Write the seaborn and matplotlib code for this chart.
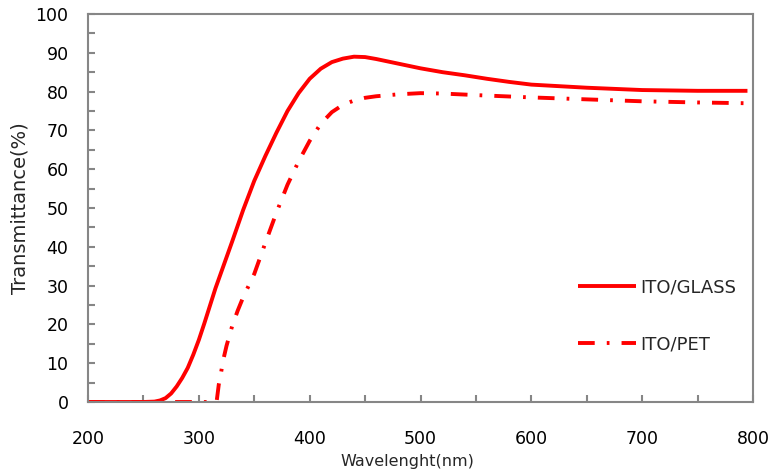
import matplotlib
matplotlib.use("Agg")
import matplotlib.pyplot as plt
from matplotlib.ticker import MultipleLocator
import seaborn as sns
import pandas as pd

# ---- data ----
glass_wl = [200, 250, 260, 265, 270, 275, 280, 285, 290, 295, 300, 305, 310, 315,
            320, 330, 340, 350, 360, 370, 380, 390, 400, 410, 420, 430, 440, 450,
            460, 470, 480, 500, 520, 540, 560, 580, 600, 650, 700, 750, 795]
glass_t = [0, 0, 0.1, 0.4, 1.0, 2.2, 4.0, 6.2, 8.8, 12.2, 16.0, 20.3, 24.8, 29.3,
           33.3, 41.3, 49.5, 57.0, 63.4, 69.4, 75.0, 79.6, 83.3, 85.9, 87.6, 88.5,
           89.0, 88.9, 88.4, 87.8, 87.2, 86.0, 85.0, 84.2, 83.3, 82.5, 81.8, 81.0,
           80.4, 80.2, 80.2]

pet_wl = [200, 316, 318, 320, 322, 325, 330, 335, 340, 350, 360, 370, 380, 390,
          400, 410, 420, 430, 440, 450, 460, 480, 500, 520, 550, 600, 650, 700,
          750, 795]
pet_t = [0, 0, 4.5, 7.5, 10.8, 14.5, 19.5, 23.5, 27, 33, 41, 48.8, 56, 62,
         67.3, 71.7, 74.7, 76.6, 77.7, 78.4, 78.8, 79.3, 79.6, 79.5, 79.1, 78.5,
         78.0, 77.5, 77.2, 77.0]

labels = ["ITO/GLASS", "ITO/PET"]
x_ticks = [200, 300, 400, 500, 600, 700, 800]
y_ticks = [0, 10, 20, 30, 40, 50, 60, 70, 80, 90, 100]

df_glass = pd.DataFrame({"wl": glass_wl, "t": glass_t})
df_pet = pd.DataFrame({"wl": pet_wl, "t": pet_t})

sns.set_style("white")
plt.rcParams["font.family"] = ["DejaVu Sans"]

fig = plt.figure(figsize=(7.73, 4.72), dpi=100)
ax = fig.add_axes([88 / 773, 1 - 402 / 472, (753 - 88) / 773, (402 - 14) / 472])

red = "#FF0000"
sns.lineplot(data=df_glass, x="wl", y="t", ax=ax, color=red, linewidth=2.8,
             label=labels[0], solid_capstyle="butt")
sns.lineplot(data=df_pet, x="wl", y="t", ax=ax, color=red, linewidth=2.8,
             label=labels[1], linestyle=(0, (4.3, 3.1, 0.7, 3.1)),
             dash_capstyle="butt")

ax.set_xlim(200, 800)
ax.set_ylim(0, 100)
ax.set_xticks(x_ticks)
ax.set_yticks(y_ticks)
ax.xaxis.set_minor_locator(MultipleLocator(50))
ax.yaxis.set_minor_locator(MultipleLocator(5))

gray = "#868686"
for s in ax.spines.values():
    s.set_visible(True)
    s.set_color(gray)
    s.set_linewidth(1.5)

ax.tick_params(axis="both", which="both", direction="in", length=5, width=1.5,
               color=gray, labelcolor="black", labelsize=12.5)
ax.tick_params(axis="x", which="both", pad=20, bottom=True, top=False)
ax.tick_params(axis="y", which="both", pad=14, left=True, right=False)

ax.set_xlabel("Wavelenght(nm)", fontsize=11.5)
ax.xaxis.set_label_coords((407 - 88) / 665, -0.135)
ax.set_ylabel("Transmittance(%)", fontsize=14, labelpad=4)

leg = ax.legend(loc="upper left", bbox_to_anchor=(578 / 773, 1 - 278 / 472),
                bbox_transform=fig.transFigure, frameon=False, fontsize=13,
                handlelength=3.2, handletextpad=0.22, labelspacing=2.2,
                borderpad=0, borderaxespad=0)

fig.savefig("out.png", dpi=100)
